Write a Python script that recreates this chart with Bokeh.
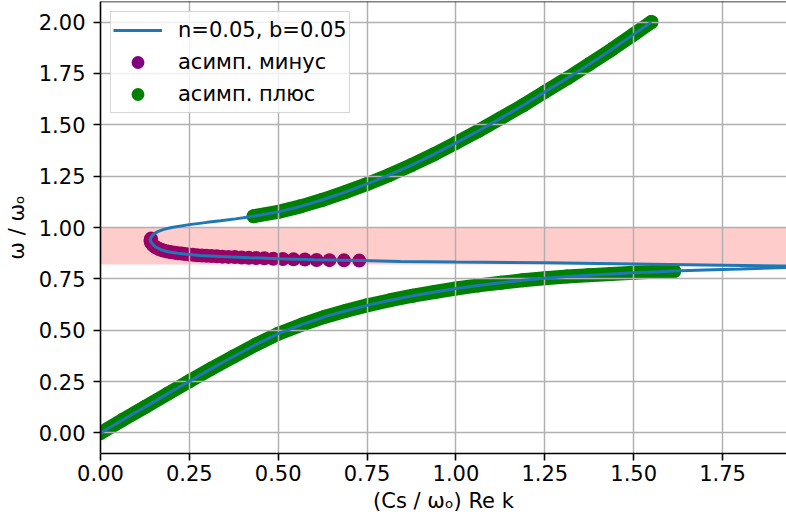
from bokeh.plotting import figure
from bokeh.models import (FixedTicker, NumeralTickFormatter, BoxAnnotation, Span,
                          Legend, LegendItem, Range1d)
from bokeh.embed import file_html
from bokeh.resources import INLINE

# ---------------- data ----------------
# full dispersion curve (Re k, omega), ordered by increasing omega
curve_k = [0.000, 0.063, 0.126, 0.188, 0.250, 0.312, 0.374, 0.437, 0.500, 0.566,
           0.632, 0.691, 0.750, 0.815, 0.879, 0.940, 1.000, 1.063, 1.126, 1.188,
           1.250, 1.312, 1.373, 1.437, 1.500, 1.557, 1.614, 1.700, 1.800, 1.930, 2.050,
           1.930, 1.750, 1.500, 1.250, 1.000, 0.844, 0.731, 0.600, 0.502, 0.420,
           0.338, 0.280, 0.250, 0.216, 0.190, 0.170, 0.155, 0.146, 0.141, 0.140,
           0.143, 0.150, 0.161, 0.178, 0.200, 0.250, 0.300, 0.338, 0.380, 0.431,
           0.500, 0.563, 0.625, 0.688, 0.750, 0.813, 0.875, 0.938, 1.000, 1.063,
           1.125, 1.188, 1.250, 1.313, 1.375, 1.438, 1.500, 1.550]
curve_w = [0.000, 0.064, 0.127, 0.190, 0.252, 0.313, 0.372, 0.430, 0.483, 0.527,
           0.566, 0.595, 0.621, 0.646, 0.668, 0.686, 0.703, 0.718, 0.731, 0.743,
           0.753, 0.761, 0.768, 0.774, 0.780, 0.784, 0.788, 0.793, 0.798, 0.805, 0.809,
           0.812, 0.816, 0.822, 0.828, 0.832, 0.835, 0.839, 0.843, 0.848, 0.853,
           0.859, 0.864, 0.869, 0.875, 0.882, 0.892, 0.905, 0.920, 0.933, 0.942,
           0.955, 0.968, 0.980, 0.991, 1.000, 1.014, 1.025, 1.033, 1.042, 1.055,
           1.076, 1.103, 1.135, 1.172, 1.212, 1.256, 1.304, 1.356, 1.412, 1.470,
           1.531, 1.594, 1.660, 1.726, 1.795, 1.866, 1.940, 2.000]

# asymptotic "minus" points
minus_k = [0.142, 0.141, 0.141, 0.143, 0.146, 0.149, 0.153, 0.158, 0.164, 0.170,
           0.177, 0.184, 0.192, 0.200, 0.209, 0.218, 0.228, 0.238, 0.249, 0.260,
           0.272, 0.285, 0.298, 0.312, 0.327, 0.343, 0.360, 0.378, 0.397, 0.417,
           0.438, 0.461, 0.486, 0.513, 0.543, 0.575, 0.608, 0.644, 0.685, 0.728]
minus_w = [0.946, 0.939, 0.932, 0.925, 0.918, 0.912, 0.906, 0.901, 0.896, 0.892,
           0.888, 0.885, 0.882, 0.879, 0.877, 0.875, 0.873, 0.871, 0.869, 0.867,
           0.865, 0.864, 0.862, 0.861, 0.860, 0.858, 0.857, 0.856, 0.854, 0.853,
           0.851, 0.850, 0.848, 0.847, 0.845, 0.844, 0.842, 0.841, 0.840, 0.839]

# asymptotic "plus" points: lower and upper branch
plus_low_k = [0.000, 0.063, 0.126, 0.188, 0.250, 0.312, 0.374, 0.437, 0.500, 0.566,
              0.632, 0.691, 0.750, 0.815, 0.879, 0.940, 1.000, 1.063, 1.126, 1.188,
              1.250, 1.312, 1.373, 1.437, 1.500, 1.557, 1.614]
plus_low_w = [0.000, 0.064, 0.127, 0.190, 0.252, 0.313, 0.372, 0.430, 0.483, 0.527,
              0.566, 0.595, 0.621, 0.646, 0.668, 0.686, 0.703, 0.718, 0.731, 0.743,
              0.753, 0.761, 0.768, 0.774, 0.780, 0.784, 0.788]
plus_up_k = [0.431, 0.500, 0.563, 0.625, 0.688, 0.750, 0.813, 0.875, 0.938, 1.000,
             1.063, 1.125, 1.188, 1.250, 1.313, 1.375, 1.438, 1.500, 1.550]
plus_up_w = [1.055, 1.076, 1.103, 1.135, 1.172, 1.212, 1.256, 1.304, 1.356, 1.412,
             1.470, 1.531, 1.594, 1.660, 1.726, 1.795, 1.866, 1.940, 2.000]

band_lo = 0.82
band_hi = 1.00

x_ticks = [0.00, 0.25, 0.50, 0.75, 1.00, 1.25, 1.50, 1.75]
y_ticks = [0.00, 0.25, 0.50, 0.75, 1.00, 1.25, 1.50, 1.75, 2.00]

curve_label = "n=0.05, b=0.05"
minus_label = "асимп. минус"
plus_label = "асимп. плюс"
x_title = "(Cs / ωₒ) Re k"
y_title = "ω / ωₒ"

# ---------------- layout / style ----------------
x_min, x_max = 0.0, 1.93
y_min, y_max = -0.1, 2.1
FONT = "DejaVu Sans"
FS = "21px"
MARK = 14

p = figure(width=786, height=523, output_backend="svg", toolbar_location=None,
           x_range=Range1d(x_min, x_max), y_range=Range1d(y_min, y_max),
           min_border_left=100, min_border_right=0, min_border_top=1,
           min_border_bottom=70)
p.background_fill_color = "white"
p.border_fill_color = "white"
p.outline_line_color = None

# band
band = BoxAnnotation(bottom=band_lo, top=band_hi, fill_color="red", fill_alpha=0.2,
                     line_color=None, level="underlay")
p.add_layout(band)

# asymptotic plus (band made of markers + connecting thick line)
p.multi_line(xs=[plus_low_k, plus_up_k], ys=[plus_low_w, plus_up_w],
             line_color="green", line_width=MARK, line_cap="round",
             line_join="round", level="underlay")
plus_r = p.scatter(plus_low_k + plus_up_k, plus_low_w + plus_up_w, size=MARK,
                   fill_color="green", line_color=None, level="underlay")

# asymptotic minus
minus_r = p.scatter(minus_k, minus_w, size=MARK, fill_color="purple",
                    line_color=None, level="underlay")

# main curve
line_r = p.line(curve_k, curve_w, line_color="#1f77b4", line_width=3,
                level="guide")

# grid
for g in (p.xgrid, p.ygrid):
    g.level = "glyph"
    g.grid_line_color = "#b0b0b0"
    g.grid_line_width = 1.5
p.xgrid.ticker = FixedTicker(ticks=x_ticks)
p.ygrid.ticker = FixedTicker(ticks=y_ticks)

# axes
for ax in (p.xaxis[0], p.yaxis[0]):
    ax.axis_line_color = "black"
    ax.axis_line_width = 1.6
    ax.major_tick_line_color = "black"
    ax.major_tick_line_width = 1.6
    ax.major_tick_out = 7
    ax.major_tick_in = 0
    ax.minor_tick_line_color = None
    ax.major_label_text_font = FONT
    ax.major_label_text_font_size = FS
    ax.major_label_text_color = "black"
    ax.axis_label_text_font = FONT
    ax.axis_label_text_font_size = FS
    ax.axis_label_text_font_style = "normal"
    ax.axis_label_text_color = "black"
    ax.formatter = NumeralTickFormatter(format="0.00")

p.xaxis[0].ticker = FixedTicker(ticks=x_ticks)
p.yaxis[0].ticker = FixedTicker(ticks=y_ticks)
p.xaxis[0].axis_label = x_title
p.yaxis[0].axis_label = y_title
p.xaxis[0].major_label_standoff = 4
p.xaxis[0].axis_label_standoff = 5
p.yaxis[0].major_label_standoff = 8
p.yaxis[0].axis_label_standoff = 7

# top spine
p.add_layout(Span(location=y_max, dimension="width", line_color="black",
                  line_width=1.6))

legend = Legend(items=[LegendItem(label=curve_label, renderers=[line_r]),
                       LegendItem(label=minus_label, renderers=[minus_r]),
                       LegendItem(label=plus_label, renderers=[plus_r])],
                location="top_left", margin=10, padding=2, spacing=0,
                glyph_width=49, glyph_height=32, label_standoff=16,
                label_text_font=FONT, label_text_font_size=FS,
                label_text_color="black",
                border_line_color="#cccccc", border_line_width=1.6,
                border_line_alpha=0.8, background_fill_color="white",
                background_fill_alpha=0.8)
p.add_layout(legend)

open("out.html", "w").write(file_html(p, INLINE))
